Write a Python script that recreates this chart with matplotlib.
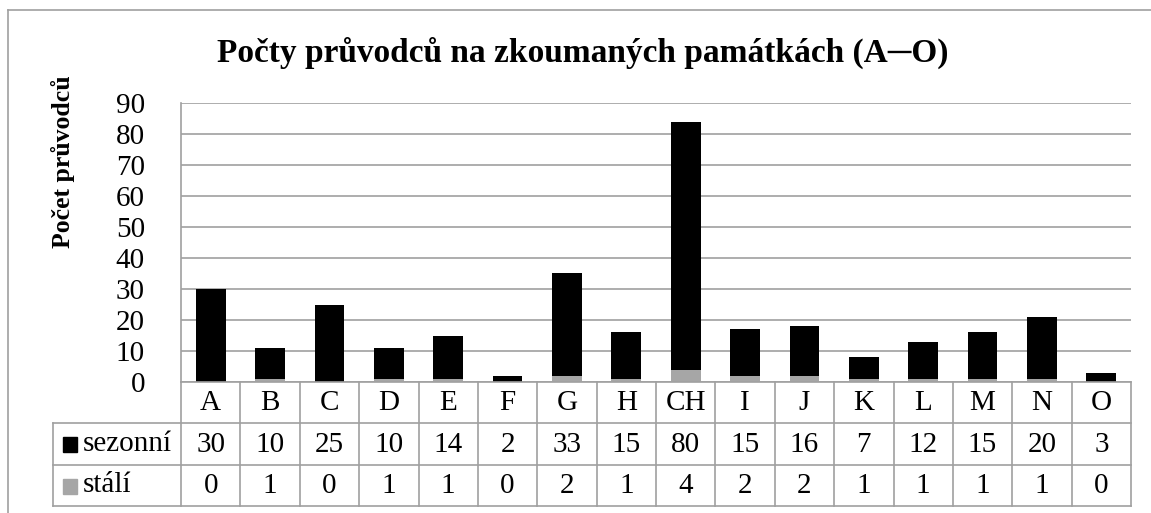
import matplotlib.pyplot as plt
from matplotlib.patches import Rectangle
from matplotlib.lines import Line2D
import numpy as np

# data
pamatky = ["A", "B", "C", "D", "E", "F", "G", "H", "CH", "I", "J", "K", "L", "M", "N", "O"]
sezonni = [30, 10, 25, 10, 14, 2, 33, 15, 80, 15, 16, 7, 12, 15, 20, 3]
stali = [0, 1, 0, 1, 1, 0, 2, 1, 4, 2, 2, 1, 1, 1, 1, 0]
y_ticks = list(range(0, 100, 10))

plt.rcParams['font.family'] = ['Liberation Serif', 'DejaVu Serif']

W, H = 1151, 513
fig = plt.figure(figsize=(W / 100, H / 100), dpi=100)

grey = "#a6a6a6"
line_grey = "#a0a0a0"
fs = 21

def fx(px):
    return px / W

def fy(py):
    return 1 - py / H

# vnejsi ramecek (jen vlevo a nahore, zbytek je oriznuty)
fig.add_artist(Line2D([fx(8), fx(8)], [fy(10), 0], color=line_grey, lw=1.2))
fig.add_artist(Line2D([fx(8), 1], [fy(10), fy(10)], color=line_grey, lw=1.2))

x0, x1 = 181, 1131
y_top, y_zero = 103, 382
ax = fig.add_axes([fx(x0), fy(y_zero), fx(x1 - x0), (y_zero - y_top) / H])

x = np.arange(len(pamatky))
ax.bar(x, stali, width=0.5, color=grey, zorder=3)
ax.bar(x, sezonni, width=0.5, bottom=stali, color="black", zorder=3)

ax.set_xlim(-0.5, len(pamatky) - 0.5)
ax.set_ylim(0, 90)
ax.set_yticks(y_ticks)
ax.set_yticklabels([str(v) for v in y_ticks], fontsize=fs)
ax.tick_params(axis='y', length=0, pad=26)
ax.set_xticks([])
ax.yaxis.grid(True, color=line_grey, lw=1.2, zorder=0)
for s in ["top", "right", "bottom"]:
    ax.spines[s].set_visible(False)
ax.spines["left"].set_color(line_grey)
ax.spines["left"].set_linewidth(1.2)

fig.text(fx(583), fy(53), "Počty průvodců na zkoumaných památkách (A\u2500O)",
         fontsize=24, fontweight="bold", ha="center", va="center")
fig.text(fx(63), fy(162), "Počet průvodců", fontsize=18.5, fontweight="bold",
         rotation=90, ha="center", va="center")

# tabulka dat pod grafem
t_bottom = 506
tab = fig.add_axes([fx(x0), fy(t_bottom), fx(x1 - x0), (t_bottom - y_zero) / H])
tab.set_xlim(-0.5, len(pamatky) - 0.5)
tab.set_ylim(3, 0)
tab.axis("off")

col_px = (x1 - x0) / len(pamatky)
left_edge = -0.5 - (x0 - 53) / col_px
lk = dict(color=line_grey, lw=1.2, clip_on=False)

for r in [0, 1, 2, 3]:
    start = -0.5 if r == 0 else left_edge
    tab.plot([start, len(pamatky) - 0.5], [r, r], **lk)
for c in range(len(pamatky) + 1):
    tab.plot([c - 0.5, c - 0.5], [0, 3], **lk)
tab.plot([left_edge, left_edge], [1, 3], **lk)

for i, name in enumerate(pamatky):
    tab.text(i, 0.52, name, ha="center", va="center", fontsize=fs)
    tab.text(i, 1.52, str(sezonni[i]), ha="center", va="center", fontsize=fs)
    tab.text(i, 2.52, str(stali[i]), ha="center", va="center", fontsize=fs)

row_px = (t_bottom - y_zero) / 3
sq_w = 14 / col_px
sq_h = 15 / row_px
sq_x = left_edge + 10 / col_px
for r, (lab, col) in enumerate([("sezonní", "black"), ("stálí", grey)]):
    tab.add_patch(Rectangle((sq_x, 1.52 + r - sq_h / 2), sq_w, sq_h,
                            color=col, clip_on=False))
    tab.text(left_edge + 30 / col_px, 1.5 + r, lab, ha="left", va="center", fontsize=fs)

fig.savefig("out.png", dpi=100)
